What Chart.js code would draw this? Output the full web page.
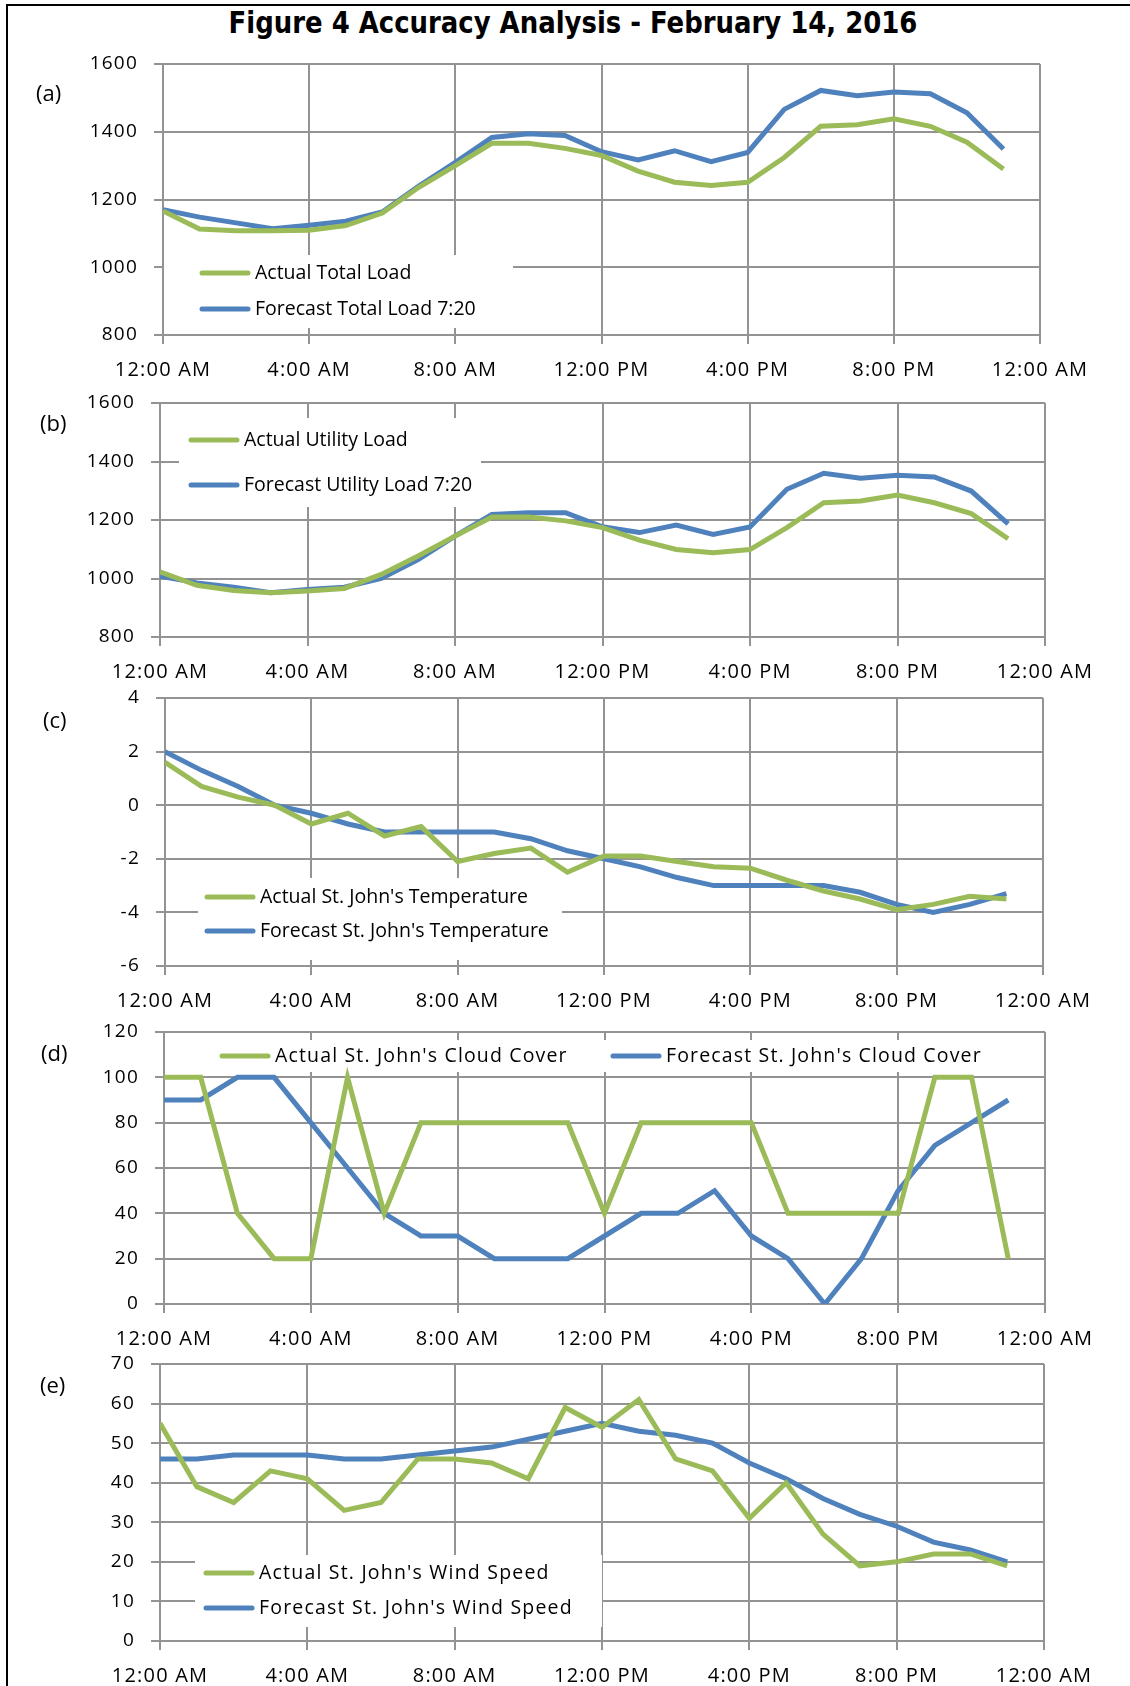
<!DOCTYPE html>
<html>
<head>
<meta charset="utf-8">
<script src="https://cdn.jsdelivr.net/npm/chart.js@4.4.0/dist/chart.umd.min.js"></script>
<style>
  body { margin: 0; background: #fff; }
  #page { position: relative; width: 1130px; height: 1686px; overflow: hidden; background: #fff; }
  #frame { position: absolute; left: 6px; top: 4px; width: 1140px; height: 1700px;
           border-left: 2px solid #000; border-top: 2px solid #000; }
  #marks { position: absolute; left: 9px; top: 4px; width: 3px; height: 1682px;
           background: repeating-linear-gradient(to bottom, transparent 0, transparent 38.6px,
                       #c8c8c8 38.6px, #c8c8c8 39.6px, transparent 39.6px, transparent 37.7px);
           background-size: 3px 37.7px; background-position: 0 0; }
  #title { position: absolute; left: 0; top: 0; width: 1146px; text-align: center;
           font: bold 31px "DejaVu Sans Condensed", "Open Sans", sans-serif;
           line-height: 44px; color: #000; transform: scaleX(0.93); transform-origin: 573px 0; }
  canvas { position: absolute; left: 0; }
</style>
</head>
<body>
<div id="page">
  <div id="frame"></div>
  <div id="marks"></div>
  <div id="title">Figure 4 Accuracy Analysis - February 14, 2016</div>
</div>
<script>
// hourly readings, 12:00 AM .. 11:00 PM
const hours = [0, 1, 2, 3, 4, 5, 6, 7, 8, 9, 10, 11, 12, 13, 14, 15, 16, 17, 18, 19, 20, 21, 22, 23];
const timeTicks = ['12:00 AM', '4:00 AM', '8:00 AM', '12:00 PM', '4:00 PM', '8:00 PM', '12:00 AM'];

const actualTotalLoad = [1166, 1113, 1108, 1108, 1109, 1123, 1160, 1236, 1300, 1366, 1366, 1351,
                         1330, 1284, 1251, 1241, 1251, 1324, 1416, 1421, 1438, 1416, 1369, 1290];
const forecastTotalLoad = [1170, 1148, 1131, 1114, 1124, 1136, 1163, 1240, 1310, 1383, 1394, 1389,
                           1341, 1317, 1344, 1312, 1339, 1466, 1522, 1506, 1517, 1512, 1456, 1349];

const actualUtilityLoad = [1023, 977, 959, 951, 957, 966, 1014, 1077, 1145, 1210, 1210, 1197,
                           1174, 1131, 1099, 1088, 1099, 1174, 1259, 1265, 1285, 1259, 1222, 1136];
const forecastUtilityLoad = [1008, 985, 970, 951, 962, 970, 1000, 1065, 1145, 1219, 1225, 1225,
                             1177, 1157, 1183, 1151, 1176, 1305, 1360, 1343, 1353, 1347, 1299, 1187];

const actualTemp = [1.6, 0.7, 0.3, 0, -0.7, -0.3, -1.15, -0.8, -2.1, -1.8, -1.6, -2.5,
                    -1.9, -1.9, -2.1, -2.3, -2.35, -2.8, -3.2, -3.5, -3.9, -3.7, -3.4, -3.5];
const forecastTemp = [2.0, 1.3, 0.7, 0, -0.3, -0.7, -1, -1, -1, -1, -1.25, -1.7,
                      -2.0, -2.3, -2.7, -3, -3, -3, -3, -3.25, -3.7, -4.0, -3.7, -3.3];

const actualCloud = [100, 100, 40, 20, 20, 100, 40, 80, 80, 80, 80, 80,
                     40, 80, 80, 80, 80, 40, 40, 40, 40, 100, 100, 20];
const forecastCloud = [90, 90, 100, 100, 80, 60, 40, 30, 30, 20, 20, 20,
                       30, 40, 40, 50, 30, 20, 0, 20, 50, 70, 80, 90];

const actualWind = [55, 39, 35, 43, 41, 33, 35, 46, 46, 45, 41, 59,
                    54, 61, 46, 43, 31, 40, 27, 19, 20, 22, 22, 19];
const forecastWind = [46, 46, 47, 47, 47, 46, 46, 47, 48, 49, 51, 53,
                      55, 53, 52, 50, 45, 41, 36, 32, 29, 25, 23, 20];

const GREEN = '#9bbb59';
const BLUE = '#4f81bd';
const GRID = '#939393';
const FONT = '"Open Sans", "Noto Sans", sans-serif';

// legend box + panel letter, drawn inside the plot like the Excel original
const panelDecor = {
    id: 'panelDecor',
    beforeDraw(chart) {
        // the Excel labels are a bit spaced out
        chart.ctx.letterSpacing = '1.2px';
    },
    beforeDatasetsDraw(chart, args, opts) {
        const ctx = chart.ctx;
        const dy = opts.offsetY;
        const b = opts.box;
        ctx.save();
        ctx.letterSpacing = opts.spacing;
        ctx.fillStyle = '#fff';
        ctx.fillRect(b[0], b[1] - dy, b[2] - b[0], b[3] - b[1]);
        ctx.font = '19.5px ' + FONT;
        ctx.textBaseline = 'middle';
        chart.data.datasets.forEach((ds, i) => {
            const p = opts.items[i];
            const y = p[1] - dy;
            ctx.strokeStyle = ds.borderColor;
            ctx.lineWidth = 5;
            ctx.lineCap = 'round';
            ctx.beginPath();
            ctx.moveTo(p[0] + 2, y);
            ctx.lineTo(p[0] + 48, y);
            ctx.stroke();
            ctx.fillStyle = '#000';
            ctx.fillText(ds.label, p[0] + 55, y);
        });
        ctx.restore();
    },
    afterDraw(chart, args, opts) {
        const ctx = chart.ctx;
        ctx.save();
        ctx.letterSpacing = '0px';
        ctx.font = '22px ' + FONT;
        ctx.fillStyle = '#000';
        ctx.textBaseline = 'middle';
        ctx.fillText(opts.tag, opts.tagPos[0], opts.tagPos[1] - opts.offsetY);
        ctx.restore();
        ctx.letterSpacing = '0px';
    }
};

function makePanel(p) {
    const canvasTop = p.top - 30;
    const height = p.bottom - p.top + 30 + 52;
    const canvas = document.createElement('canvas');
    canvas.width = 1130;
    canvas.height = height;
    canvas.style.top = canvasTop + 'px';
    canvas.style.width = '1130px';
    canvas.style.height = height + 'px';
    document.getElementById('page').appendChild(canvas);

    const toPoints = vals => hours.map((h, i) => ({ x: h, y: vals[i] }));

    new Chart(canvas.getContext('2d'), {
        type: 'line',
        data: {
            datasets: [
                { label: p.labels[0], data: toPoints(p.actual), borderColor: GREEN, backgroundColor: GREEN,
                  borderWidth: 5, pointRadius: 0, tension: 0, fill: false },
                { label: p.labels[1], data: toPoints(p.forecast), borderColor: BLUE, backgroundColor: BLUE,
                  borderWidth: 5, pointRadius: 0, tension: 0, fill: false }
            ]
        },
        options: {
            responsive: false,
            animation: false,
            layout: { padding: { top: 30, left: 0, right: 1130 - p.right, bottom: 0 } },
            plugins: {
                legend: { display: false },
                tooltip: { enabled: false },
                panelDecor: { offsetY: canvasTop, box: p.box, items: p.items, tag: p.tag, tagPos: p.tagPos,
                              spacing: p.legendSpacing || '0px' }
            },
            scales: {
                x: {
                    type: 'linear', min: 0, max: 24,
                    afterFit: s => { s.height = 52; },
                    grid: { color: GRID, lineWidth: 2, tickLength: 9 },
                    border: { color: GRID, width: 2 },
                    ticks: { stepSize: 4, padding: 14, maxRotation: 0, color: '#000',
                             font: { family: FONT, size: 20 },
                             callback: v => timeTicks[v / 4] }
                },
                y: {
                    min: p.min, max: p.max,
                    afterFit: s => { s.width = p.left; },
                    grid: { color: GRID, lineWidth: 2, tickLength: 9 },
                    border: { color: GRID, width: 2 },
                    ticks: { stepSize: p.step, padding: 16, color: '#000',
                             font: { family: FONT, size: 19 },
                             callback: v => String(v) }
                }
            }
        },
        plugins: [panelDecor]
    });
}

makePanel({
    tag: '(a)', tagPos: [36, 95],
    left: 163, right: 1040, top: 64, bottom: 335, min: 800, max: 1600, step: 200,
    labels: ['Actual Total Load', 'Forecast Total Load 7:20'],
    actual: actualTotalLoad, forecast: forecastTotalLoad,
    box: [164, 255, 513, 328], items: [[200, 273], [200, 309]]
});
makePanel({
    tag: '(b)', tagPos: [40, 425],
    left: 160, right: 1045, top: 403, bottom: 637, min: 800, max: 1600, step: 200,
    labels: ['Actual Utility Load', 'Forecast Utility Load 7:20'],
    actual: actualUtilityLoad, forecast: forecastUtilityLoad,
    box: [179, 418, 481, 507], items: [[189, 440], [189, 485]]
});
makePanel({
    tag: '(c)', tagPos: [43, 722],
    left: 165, right: 1043, top: 698, bottom: 966, min: -6, max: 4, step: 2,
    labels: ["Actual St. John's Temperature", "Forecast St. John's Temperature"],
    actual: actualTemp, forecast: forecastTemp,
    box: [198, 878, 562, 960], items: [[205, 897], [205, 931]]
});
makePanel({
    tag: '(d)', tagPos: [41, 1055],
    left: 164, right: 1045, top: 1032, bottom: 1304, min: 0, max: 120, step: 20,
    labels: ["Actual St. John's Cloud Cover", "Forecast St. John's Cloud Cover"],
    actual: actualCloud, forecast: forecastCloud,
    box: [205, 1040, 1000, 1072], items: [[220, 1056], [611, 1056]], legendSpacing: '1.15px'
});
makePanel({
    tag: '(e)', tagPos: [40, 1387],
    left: 160, right: 1044, top: 1364, bottom: 1641, min: 0, max: 70, step: 10,
    labels: ["Actual St. John's Wind Speed", "Forecast St. John's Wind Speed"],
    actual: actualWind, forecast: forecastWind,
    box: [195, 1555, 602, 1627], items: [[204, 1573], [204, 1608]], legendSpacing: '1.2px'
});
</script>
</body>
</html>
